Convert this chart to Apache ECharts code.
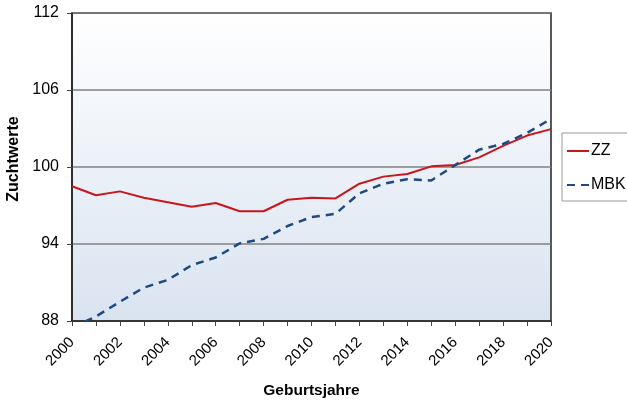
<!DOCTYPE html>
<html>
<head>
<meta charset="utf-8">
<script src="https://cdn.jsdelivr.net/npm/echarts@6/dist/echarts.min.js"></script>
<style>
  html, body { margin: 0; padding: 0; background: #fff; }
  #chart { width: 627px; height: 403px; }
</style>
</head>
<body>
<div id="chart"></div>
<script>
// Geburtsjahre 2000..2020
let years = ['2000','2001','2002','2003','2004','2005','2006','2007','2008','2009','2010',
             '2011','2012','2013','2014','2015','2016','2017','2018','2019','2020'];
// Zuchtwerte
let zzValues = [98.5, 97.8, 98.1, 97.6, 97.25, 96.9, 97.2, 96.55, 96.55, 97.45, 97.6,
                97.55, 98.7, 99.25, 99.45, 100.05, 100.15, 100.75, 101.65, 102.45, 102.95];
let mbkValues = [87.5, 88.35, 89.5, 90.6, 91.2, 92.35, 92.95, 94.05, 94.4, 95.4, 96.1,
                 96.35, 97.95, 98.7, 99.05, 98.95, 100.15, 101.35, 101.8, 102.65, 103.75];
let yTicks = [88, 94, 100, 106, 112];

let chartDom = document.getElementById('chart');
let myChart = echarts.init(chartDom);

let option = {
    animation: false,
    textStyle: { fontFamily: 'Liberation Sans, Arial, sans-serif' },
    grid: {
        left: 72,
        right: 76,
        top: 13,
        bottom: 82,
        outerBoundsMode: 'none',
        containLabel: false,
        show: true,
        borderColor: '#222',
        borderWidth: 1.5,
        backgroundColor: new echarts.graphic.LinearGradient(0, 0, 0, 1, [
            { offset: 0, color: '#ffffff' },
            { offset: 1, color: '#d9e3f0' }
        ])
    },
    legend: {
        orient: 'vertical',
        left: 562,
        top: 133,
        padding: [10, 12, 8, 4],
        itemGap: 18,
        itemWidth: 22,
        itemHeight: 16,
        borderColor: '#9a9a9a',
        borderWidth: 1,
        itemStyle: { color: 'transparent', borderWidth: 0, opacity: 0 },
        textStyle: { fontSize: 16, color: '#000', padding: [0, 0, 0, -3] },
        data: ['ZZ', 'MBK']
    },
    xAxis: {
        type: 'category',
        data: years,
        boundaryGap: false,
        name: 'Geburtsjahre',
        nameLocation: 'middle',
        nameGap: 62,
        nameTextStyle: { fontSize: 15.5, fontWeight: 'bold', color: '#000' },
        axisLine: { lineStyle: { color: '#222', width: 1.5 } },
        axisTick: { interval: 0, length: 5, lineStyle: { color: '#444' } },
        axisLabel: {
            interval: 1,
            rotate: 45,
            fontSize: 15,
            color: '#000',
            margin: 19
        },
        splitLine: { show: false }
    },
    yAxis: {
        type: 'value',
        min: 88,
        max: 112,
        interval: 6,
        name: 'Zuchtwerte',
        nameLocation: 'middle',
        nameGap: 49,
        nameTextStyle: { fontSize: 16, fontWeight: 'bold', color: '#000', padding: [0, 0, 0, 16] },
        axisLine: { show: true, lineStyle: { color: '#222', width: 1.5 } },
        axisTick: { show: true, length: 5, lineStyle: { color: '#444' } },
        axisLabel: {
            fontSize: 16,
            color: '#000',
            margin: 13,
            formatter: function (v) { return yTicks.indexOf(v) >= 0 ? v : ''; }
        },
        splitLine: { show: true, lineStyle: { color: '#808080', width: 1.5 } }
    },
    series: [
        {
            name: 'ZZ',
            type: 'line',
            data: zzValues,
            symbol: 'none',
            color: '#c8161d',
            lineStyle: { width: 2, color: '#c8161d' },
            clip: true
        },
        {
            name: 'MBK',
            type: 'line',
            data: mbkValues,
            symbol: 'none',
            color: '#1f4a7f',
            lineStyle: { width: 2.5, type: [8, 6], color: '#1f4a7f' },
            clip: true
        }
    ]
};

myChart.setOption(option, true);
window.addEventListener('resize', () => {
    myChart.resize();
});
</script>
</body>
</html>
